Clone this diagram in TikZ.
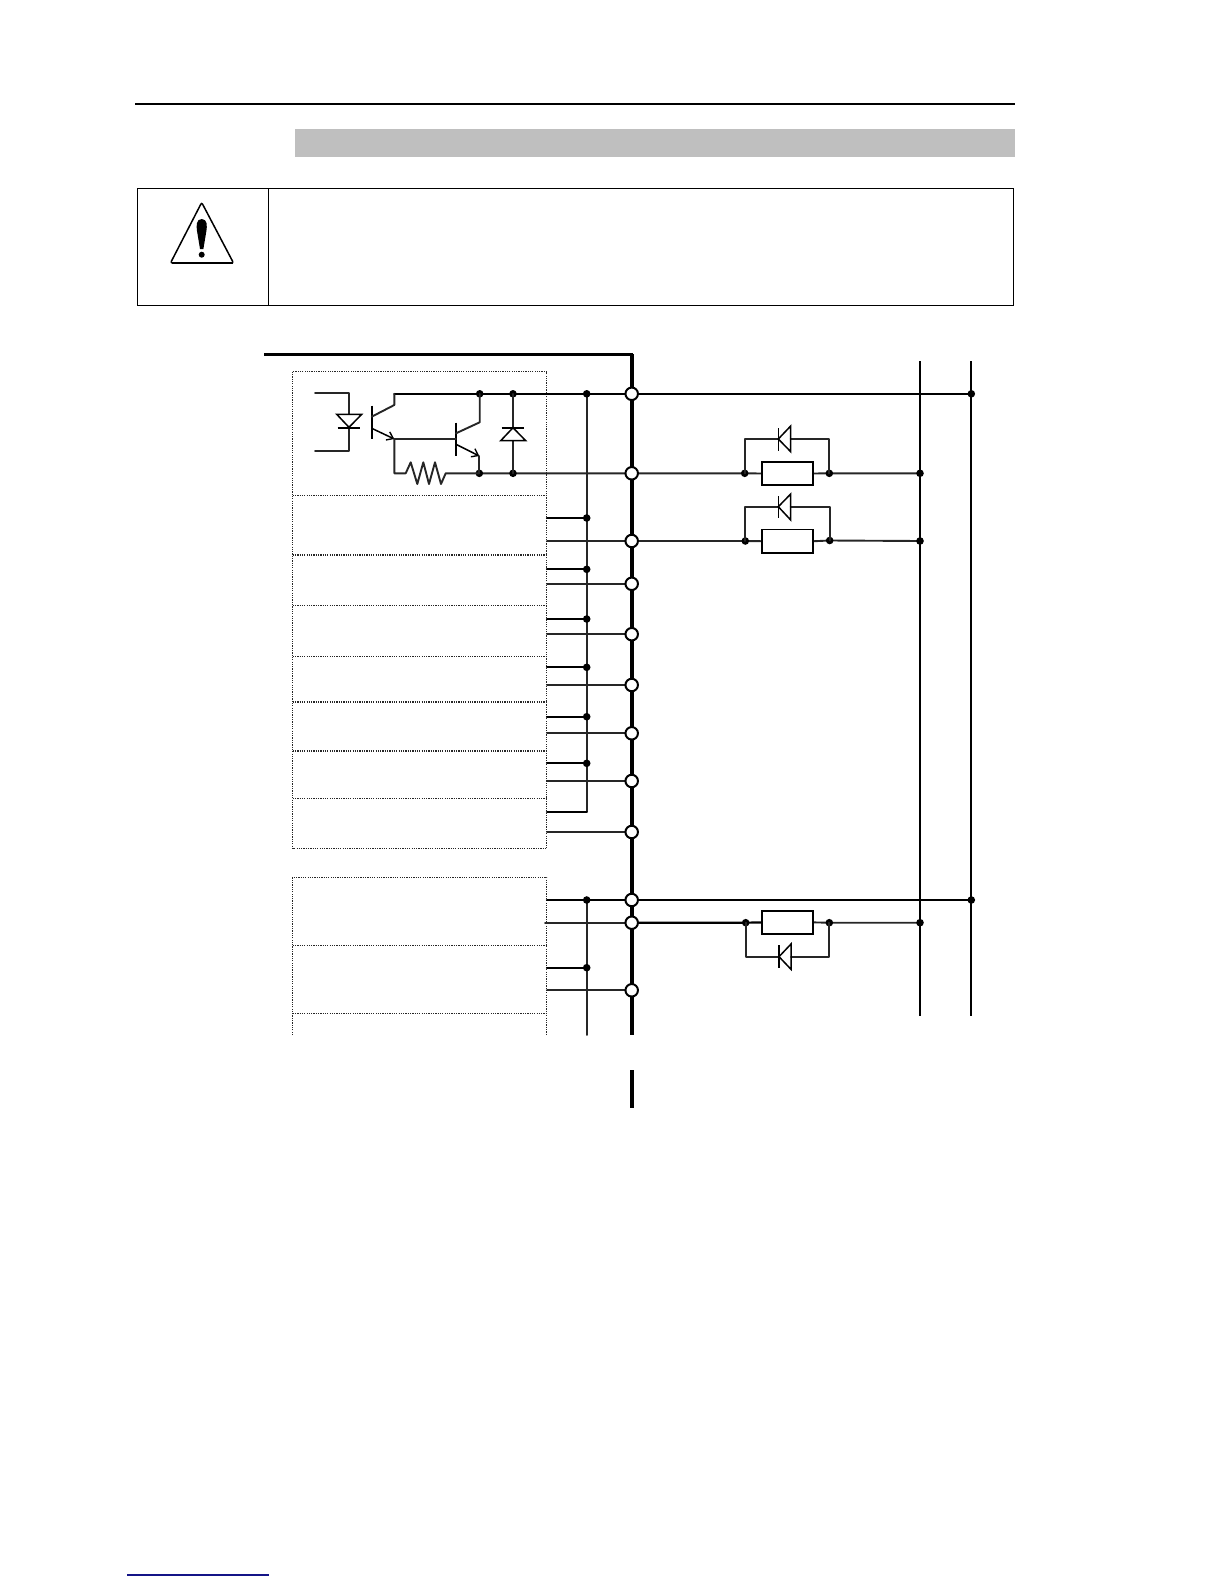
\documentclass[tikz,border=0pt]{standalone}
\usetikzlibrary{arrows.meta,backgrounds}
\tikzset{
  jdot/.style={circle,fill=black,draw=none,minimum size=7.6pt,inner sep=0pt},
  termc/.style={circle,fill=white,draw=black,line width=2pt,minimum size=12.5pt,inner sep=0pt},
  wire/.style={line width=1.9pt,black!85,line cap=round,line join=round},
  wireb/.style={line width=2.2pt,black,line cap=round,line join=round},
  vrail/.style={line width=2.2pt,black},
  bus/.style={line width=3.9pt,black},
  dotbox/.style={line width=1.1pt,black!85,dash pattern=on 1.2pt off 1.1pt},
  resbox/.style={draw=black,fill=white,line width=1.8pt,minimum width=51.6pt,minimum height=23.4pt,inner sep=0pt},
  sym/.style={line width=1.5pt,black,line join=miter},
  emit/.style={sym,-{Straight Barb[length=6pt,width=9pt,line width=1.4pt]}},
}
\begin{document}
\begin{tikzpicture}[x=1pt,y=-1pt]
\useasboundingbox (0,0) rectangle (1224,1584);
% page furniture
\coordinate (ruleL) at (135,104); \coordinate (ruleR) at (1014.5,104);
\draw[line width=2.3pt] (ruleL) -- (ruleR);
\fill[black!25] (295,129) rectangle (1015,157);
\draw[line width=1.2pt] (137.3,188.3) rectangle (1013.5,305.4);
\draw[line width=1.2pt] (268.3,188.3) -- (268.3,305.4);
\draw[line width=1.5pt,rounded corners=2pt] (201.7,202.5) -- (233.5,263) -- (170.5,263) -- cycle;
\draw[line width=2.2pt] (171.5,262.7) -- (232.5,262.7);
\fill (201.7,219) .. controls (196,219) and (196.3,226) .. (197,231) -- (200,249) -- (203.4,249) -- (206.4,231) .. controls (207.2,226) and (207.4,219) .. (201.7,219) -- cycle;
\fill (201.7,254.7) circle (3pt);
\coordinate (footL) at (127.3,1575); \coordinate (footR) at (269.3,1575);
\draw[line width=1.2pt,color={rgb,255:red,20;green,20;blue,135}] (footL) -- (footR);

% terminals on the connector line
\foreach \n/\y in {a/393.8,b/473.3,c/541,d/583.8,e/634.2,f/685,g/733.3,h/781,i/832,j/900,k/922.7,l/990.3}
  \node[termc] (t\n) at (631.7,\y) {};
% junctions on the thin bus
\foreach \n/\y in {a/393.8,c/518,d/569.3,e/619,f/667.3,g/716.7,h/763.3,j/900,l/967.7}
  \node[jdot] (s\n) at (586.7,\y) {};
% output transistor / diode junctions
\node[jdot] (qc) at (479.7,393.8) {};
\node[jdot] (dc) at (513,393.8) {};
\node[jdot] (qe) at (479.3,473.3) {};
\node[jdot] (de) at (513,473.3) {};
% load junctions
\node[jdot] (l1a) at (744.7,473.3) {};
\node[jdot] (l1b) at (829.3,473.3) {};
\node[jdot] (l2a) at (745.3,541) {};
\node[jdot] (l2b) at (829.7,540.5) {};
\node[jdot] (l3a) at (745.7,922.7) {};
\node[jdot] (l3b) at (829.3,922.7) {};
% rail junctions
\node[jdot] (r1) at (920,473.3) {};
\node[jdot] (r2) at (920,541) {};
\node[jdot] (r3) at (920,922.7) {};
\node[jdot] (p1) at (971.3,393.8) {};
\node[jdot] (p2) at (971.3,900) {};
% load resistors
\node[resbox] (rl1) at (787.5,473.5) {};
\node[resbox] (rl2) at (787.5,541.2) {};
\node[resbox] (rl3) at (787.5,922.4) {};

% free ends
\coordinate (corner) at (631.7,354.3);
\coordinate (topL) at (264,354.3);
\coordinate (busEnd) at (631.7,1035);
\coordinate (bus2a) at (631.7,1070);
\coordinate (bus2b) at (631.7,1108);
\coordinate (thinEnd) at (586.7,811.7);
\coordinate (thin2End) at (586.7,1035);
\coordinate (r1t) at (920,361); \coordinate (r1e) at (920,1016);
\coordinate (r2t) at (971.3,361); \coordinate (r2e) at (971.3,1016);

\begin{scope}[on background layer]
% housing and bus
\draw[line width=3pt,line join=miter] (topL) -- (corner) -- (ta.center);
\draw[bus] (corner) -- (ta.center) -- (tl.center) -- (busEnd);
\draw[bus] (bus2a) -- (bus2b);
% rails
\draw[vrail] (r1t) -- (r1e);
\draw[vrail] (r2t) -- (r2e);
% thin bus
\draw[wire] (sa.center) -- (thinEnd);
\draw[wireb] (thinEnd) -- (547,811.7);
\draw[wire] (sj.center) -- (thin2End);
% dotted boxes
\draw[dotbox] (292.7,371.7) rectangle (546.8,848.6);
\foreach \y in {495.7,555,605.7,656.7,702,751,798.3}
  \draw[dotbox] (292.7,\y) -- (546.8,\y);
\draw[dotbox] (292.7,1035) -- (292.7,877.3) -- (546.8,877.3) -- (546.8,1035);
\foreach \y in {945.3,1013.3}
  \draw[dotbox] (292.7,\y) -- (546.8,\y);
% stubs to the thin bus
\foreach \n/\y in {c/518,d/569.3,e/619,f/667.3,g/716.7,h/763.3,l/967.7}
  \draw[wireb] (547,\y) -- (s\n.center);
% stubs to the terminals
\foreach \n/\y in {c/541,d/583.8,e/634.2,f/685,g/733.3,h/781,i/832,l/990.3}
  \draw[wire] (547,\y) -- (t\n.center);
\draw[wireb] (547,900) -- (tj.center);
\draw[wire] (545,922.7) -- (tk.center);
% main lines
\draw[wireb] (394.3,393.8) -- (qc.center) -- (dc.center) -- (sa.center) -- (ta.center) -- (p1.center);
\draw[wire] (qe.center) -- (de.center) -- (tb.center) -- (l1a.center) -- (rl1.west);
\draw[wire] (rl1.east) -- (l1b.center) -- (r1.center);
\draw[wire] (tc.center) -- (l2a.center) -- (rl2.west);
\draw[wire] (rl2.east) -- (l2b.center) -- (r2.center);
\draw[wireb] (tj.center) -- (p2.center);
\draw[wireb] (tk.center) -- (l3a.center) -- (rl3.west);
\draw[wire] (rl3.east) -- (l3b.center) -- (r3.center);
\end{scope}

% load diode branches
\draw[wire] (l1a.center) -- (744.7,439) -- (778.3,439);
\draw[wire] (790.7,439) -- (829.3,439) -- (l1b.center);
\draw[sym] (778.3,428.3) -- (778.3,450.7);
\draw[sym] (790.7,426) -- (778.3,439) -- (790.7,451.7) -- cycle;
\draw[wire] (l2a.center) -- (745.3,506.7) -- (778.3,506.7);
\draw[wire] (790.7,506.7) -- (829.7,506.7) -- (l2b.center);
\draw[sym] (778.3,496) -- (778.3,518.3);
\draw[sym] (790.7,494) -- (778.3,506.7) -- (790.7,520) -- cycle;
\draw[wire] (l3a.center) -- (745.7,956.7) -- (779,956.7);
\draw[wire] (791,956.7) -- (829.3,956.7) -- (l3b.center);
\draw[sym] (779,945) -- (779,967.7);
\draw[sym] (791,944) -- (779,956.7) -- (791,969.3) -- cycle;

% photocoupler LED
\draw[wire] (315,393.3) -- (349,393.3) -- (349,450.7) -- (315,450.7);
\draw[sym,fill=white] (336.7,414.3) -- (361.7,414.3) -- (349,427.3) -- cycle;
\draw[sym,line width=1.8pt] (337.7,428) -- (360,428);
% first transistor
\draw[sym,line width=1.7pt] (371.7,405.7) -- (371.7,439);
\draw[wire] (371.7,416.7) -- (394.3,405) -- (394.3,393.8);
\draw[emit] (371.7,428.3) -- (394.3,439);
% second transistor
\draw[sym,line width=1.7pt] (456,422.7) -- (456,455.7);
\draw[wire] (394.3,439) -- (456,439);
\draw[wire] (456,433.3) -- (479.7,422.3) -- (qc.center);
\draw[emit] (456,444.3) -- (479.3,456);
\draw[wire] (479.3,456) -- (qe.center);
% resistor
\draw[wire] (394.3,439) -- (394.3,473.3) -- (405.7,473.3) -- (410.7,462.3) -- (417.3,484) -- (423.3,462.3) -- (429,484) -- (435,462.3) -- (441,484) -- (445.7,473.3) -- (qe.center);
% clamp diode
\draw[wire] (dc.center) -- (de.center);
\draw[sym,fill=white] (513,427.7) -- (525.7,440.7) -- (500.7,440.7) -- cycle;
\draw[sym,line width=1.8pt] (501.7,427.7) -- (524.3,427.7);
\end{tikzpicture}
\end{document}
